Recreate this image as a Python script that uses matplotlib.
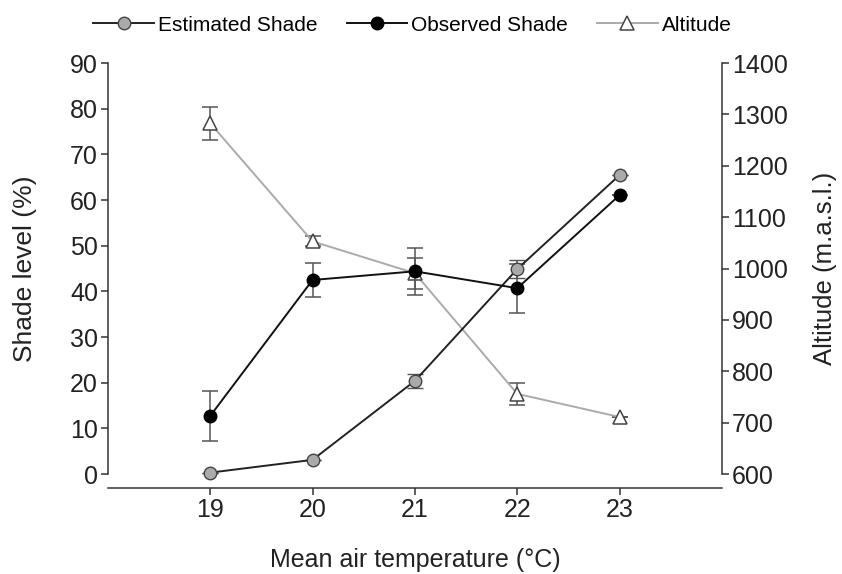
import numpy as np
import matplotlib
matplotlib.use("Agg")
from matplotlib import pyplot as plt
from matplotlib.lines import Line2D

plt.rcParams["font.family"] = ["Liberation Sans", "DejaVu Sans"]

temperature = [19, 20, 21, 22, 23]
estimated_shade = [0.3, 3.1, 20.4, 44.9, 65.5]
estimated_err = [0, 0, 1.5, 2.0, 0]
observed_shade = [12.7, 42.5, 44.4, 40.7, 61.1]
observed_err = [5.4, 3.7, 5.2, 5.4, 0]
altitude = [1283, 1053, 991, 756, 711]
altitude_err = [32, 10, 30, 22, 0]

fig = plt.figure(figsize=(8.42, 5.74), dpi=100)
ax = fig.add_axes([0.128, 0.1742, 0.7295, 0.7158])
ax2 = ax.twinx()

edge = "#333333"
text_color = "#222222"
err_kw = dict(ecolor="#555555", elinewidth=1.1, capsize=6, capthick=1.1)
est_style = dict(color="#222222", lw=1.4, marker="o", ms=9, mfc="#aaaaaa", mec="#444444", mew=1.0)
obs_style = dict(color="#111111", lw=1.4, marker="o", ms=9, mfc="black", mec="black")
alt_style = dict(color="#aaaaaa", lw=1.4, marker="^", ms=10, mfc="white", mec="#444444", mew=1.1)

ax2.errorbar(temperature, altitude, yerr=altitude_err, clip_on=False, **alt_style, **err_kw)
ax.errorbar(temperature, estimated_shade, yerr=estimated_err, clip_on=False, zorder=3,
            **est_style, **err_kw)
ax.errorbar(temperature, observed_shade, yerr=observed_err, clip_on=False, zorder=3,
            **obs_style, **err_kw)

ax.set_zorder(ax2.get_zorder() + 1)
ax.patch.set_visible(False)

ax.set_xlim(18, 24)
ax.set_ylim(0, 90)
ax2.set_ylim(600, 1400)
ax.set_xticks(temperature)
ax.set_yticks(np.arange(0, 91, 10))
ax2.set_yticks(np.arange(600, 1401, 100))

for a in (ax, ax2):
    a.spines["top"].set_visible(False)
    a.spines["bottom"].set_position(("outward", 10))
    for s in a.spines.values():
        s.set_color(edge)
        s.set_linewidth(1.1)
    a.tick_params(direction="out", length=5, width=1.1, color=edge,
                  labelsize=18, pad=2, labelcolor=text_color)
ax.spines["right"].set_visible(False)
ax2.spines["left"].set_visible(False)
ax2.spines["bottom"].set_visible(False)

ax.set_xlabel("Mean air temperature (°C)", fontsize=18, labelpad=19, color=text_color)
ax.set_ylabel("Shade level (%)", fontsize=19, labelpad=24, color=text_color)
ax2.set_ylabel("Altitude (m.a.s.l.)", fontsize=18.5, labelpad=18, color=text_color)

handles = [Line2D([], [], **est_style), Line2D([], [], **obs_style), Line2D([], [], **alt_style)]
labels = ["Estimated Shade", "Observed Shade", "Altitude"]
fig.legend(handles, labels, loc="center", bbox_to_anchor=(0.49, 0.956), ncol=3,
           frameon=False, fontsize=15, handlelength=2.9, handletextpad=0.2,
           columnspacing=1.4, borderpad=0)

fig.savefig("out.png", dpi=100)
